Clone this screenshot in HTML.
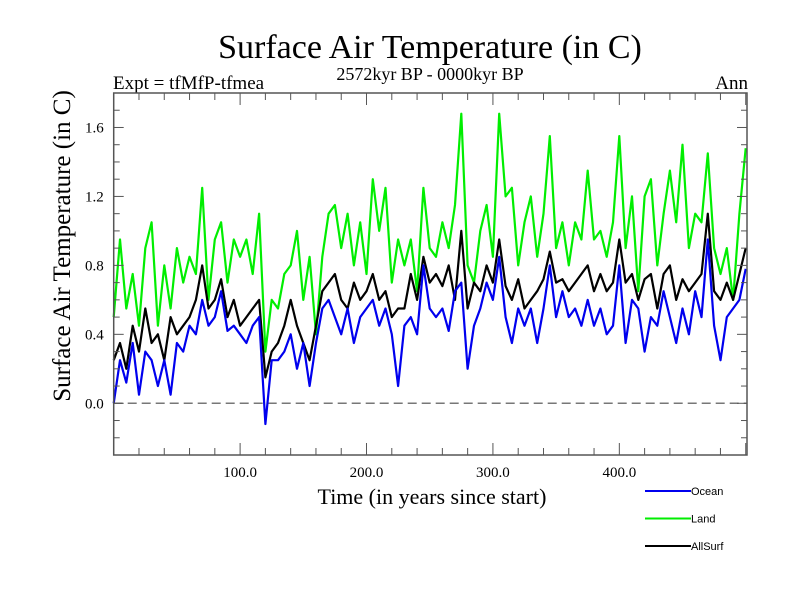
<!DOCTYPE html>
<html><head><meta charset="utf-8"><style>
body{margin:0;background:#fff;}
svg{display:block;font-family:"Liberation Serif",serif;}
</style></head><body>
<svg id="chart" width="800" height="600">
<text x="430" y="58" font-size="34" text-anchor="middle">Surface Air Temperature (in C)</text>
<text x="430" y="80" font-size="18" text-anchor="middle">2572kyr BP - 0000kyr BP</text>
<text x="113" y="89" font-size="19">Expt = tfMfP-tfmea</text>
<text x="748" y="89" font-size="19" text-anchor="end">Ann</text>
<text transform="translate(70,246) rotate(-90)" font-size="25" text-anchor="middle">Surface Air Temperature (in C)</text>
<text x="432" y="504" font-size="22" text-anchor="middle">Time (in years since start)</text>
<g id="plot"></g>
<g id="legend"></g>
</svg>
<script>
const years=[0,5,10,15,20,25,30,35,40,45,50,55,60,65,70,75,80,85,90,95,100,105,110,115,120,125,130,135,140,145,150,155,160,165,170,175,180,185,190,195,200,205,210,215,220,225,230,235,240,245,250,255,260,265,270,275,280,285,290,295,300,305,310,315,320,325,330,335,340,345,350,355,360,365,370,375,380,385,390,395,400,405,410,415,420,425,430,435,440,445,450,455,460,465,470,475,480,485,490,495,500];
const land=[0.5,0.95,0.55,0.75,0.45,0.9,1.05,0.45,0.8,0.55,0.9,0.7,0.85,0.75,1.25,0.6,0.95,1.05,0.7,0.95,0.85,0.95,0.75,1.1,0.3,0.6,0.55,0.75,0.8,1.0,0.6,0.85,0.4,0.85,1.1,1.15,0.9,1.1,0.8,1.05,0.75,1.3,1.0,1.25,0.7,0.95,0.8,0.95,0.65,1.25,0.9,0.85,1.05,0.9,1.15,1.68,0.8,0.7,1.0,1.15,0.85,1.68,1.2,1.25,0.8,1.05,1.2,0.85,1.1,1.55,0.9,1.05,0.8,1.05,0.95,1.35,0.95,1.0,0.85,1.05,1.55,0.9,1.2,0.65,1.2,1.3,0.8,1.1,1.35,1.05,1.5,0.9,1.1,1.05,1.45,0.9,0.75,0.9,0.6,1.1,1.48];
const allSurf=[0.25,0.35,0.2,0.45,0.3,0.55,0.35,0.4,0.25,0.5,0.4,0.45,0.5,0.6,0.8,0.55,0.6,0.72,0.5,0.6,0.45,0.5,0.55,0.6,0.15,0.3,0.35,0.45,0.6,0.45,0.35,0.25,0.45,0.65,0.7,0.75,0.6,0.55,0.7,0.6,0.65,0.75,0.6,0.65,0.5,0.55,0.55,0.75,0.6,0.85,0.7,0.75,0.68,0.8,0.6,1.0,0.55,0.7,0.65,0.8,0.7,0.95,0.68,0.6,0.72,0.55,0.6,0.65,0.72,0.88,0.7,0.72,0.65,0.7,0.75,0.8,0.65,0.75,0.65,0.7,0.95,0.7,0.75,0.6,0.72,0.75,0.55,0.75,0.8,0.6,0.72,0.65,0.7,0.75,1.1,0.65,0.6,0.7,0.6,0.75,0.9];
const ocean=[0.0,0.25,0.12,0.35,0.05,0.3,0.25,0.1,0.25,0.05,0.35,0.3,0.45,0.4,0.6,0.45,0.5,0.65,0.42,0.45,0.4,0.35,0.45,0.5,-0.12,0.25,0.25,0.3,0.4,0.2,0.35,0.1,0.35,0.55,0.6,0.5,0.4,0.55,0.35,0.5,0.55,0.6,0.45,0.55,0.4,0.1,0.45,0.5,0.4,0.8,0.55,0.5,0.55,0.42,0.65,0.7,0.2,0.45,0.55,0.7,0.6,0.85,0.5,0.35,0.55,0.45,0.55,0.35,0.55,0.8,0.5,0.65,0.5,0.55,0.45,0.6,0.45,0.55,0.4,0.45,0.8,0.35,0.6,0.55,0.3,0.5,0.45,0.65,0.5,0.35,0.55,0.4,0.65,0.5,0.95,0.45,0.25,0.5,0.55,0.6,0.78];
const yTickLabels=["0.0","0.4","0.8","1.2","1.6"];
const xTickLabels=["100.0","200.0","300.0","400.0"];
const seriesNames=["Ocean","Land","AllSurf"];

const L=113.7,R=747,T=93,B=455,X0=0,X1=501,Y0=-0.3,Y1=1.8;
const sx=v=>L+(v-X0)/(X1-X0)*(R-L);
const sy=v=>B-(v-Y0)/(Y1-Y0)*(B-T);
const NS="http://www.w3.org/2000/svg";
const plot=document.getElementById('plot');
function mk(tag,attrs,parent){const e=document.createElementNS(NS,tag);for(const k in attrs)e.setAttribute(k,attrs[k]);parent.appendChild(e);return e;}

const zl=mk('line',{x1:L,x2:R,y1:sy(0),y2:sy(0),stroke:'#777','stroke-width':1.5,'stroke-dasharray':'9,5'},plot);



function series(vals,color,name){
  const d=vals.map((v,i)=>(i?'L':'M')+sx(years[i]).toFixed(1)+','+sy(v).toFixed(1)).join('');
  const p=mk('path',{d:d,fill:'none',stroke:color,'stroke-width':2.2,'stroke-linejoin':'round'},plot);
  
  
}
series(land,'#00ee00','land-line');
series(allSurf,'#000000','allsurf-line');
series(ocean,'#0000ee','ocean-line');

const frame=mk('rect',{x:L,y:T,width:R-L,height:B-T,fill:'none',stroke:'#555','stroke-width':1.5},plot);



for(let v=-0.3;v<=1.801;v+=0.1){
  const y=sy(v);const major=Math.abs(Math.round(v*10)%4)===0;const len=major?10:6;
  mk('line',{x1:L,x2:L+len,y1:y,y2:y,stroke:'#555'},plot);
  mk('line',{x1:R,x2:R-len,y1:y,y2:y,stroke:'#555'},plot);
}
yTickLabels.forEach(s=>{
  const t=mk('text',{x:L-10,y:sy(parseFloat(s))+5,'font-size':15,'text-anchor':'end'},plot);
  t.textContent=s;
  
  
});
for(let v=20;v<X1;v+=20){
  const x=sx(v);const len=v%100===0?12:7;
  mk('line',{x1:x,x2:x,y1:B,y2:B-len,stroke:'#555'},plot);
  mk('line',{x1:x,x2:x,y1:T,y2:T+len,stroke:'#555'},plot);
}
xTickLabels.forEach(s=>{
  const t=mk('text',{x:sx(parseFloat(s)),y:B+22,'font-size':15,'text-anchor':'middle'},plot);
  t.textContent=s;
  
  
});

const lg=document.getElementById('legend');
const colors=['#0000ee','#00ee00','#000000'];
seriesNames.forEach((n,i)=>{
  const y=491+i*27.5;
  const g=mk('g',{},lg);
  
  
  mk('line',{x1:645,x2:691,y1:y,y2:y,stroke:colors[i],'stroke-width':2},g);
  const t=mk('text',{x:691,y:y+4,'font-size':11,'font-family':'Liberation Sans, sans-serif'},g);
  t.textContent=n;
});
</script>
</body></html>
